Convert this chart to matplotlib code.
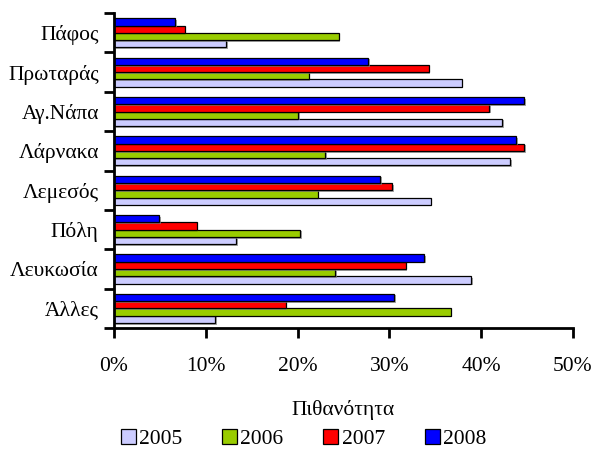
import numpy as np
import matplotlib.pyplot as plt
import matplotlib.patheffects as pe
from matplotlib.patches import Patch
from matplotlib.ticker import FixedLocator, PercentFormatter

plt.rcParams["font.family"] = ["Liberation Serif", "DejaVu Serif"]
plt.rcParams["font.size"] = 15.5

# categories, top to bottom
places = ["Πάφος", "Πρωταράς", "Αγ.Νάπα", "Λάρνακα", "Λεμεσός", "Πόλη", "Λευκωσία", "Άλλες"]
years = ["2005", "2006", "2007", "2008"]

# values in %
v2005 = [12.2, 37.9, 42.3, 43.2, 34.5, 13.3, 38.9, 11.0]
v2006 = [24.5, 21.2, 20.1, 23.0, 22.2, 20.3, 24.1, 36.7]
v2007 = [7.7, 34.3, 40.9, 44.7, 30.3, 9.0, 31.8, 18.7]
v2008 = [6.7, 27.7, 44.7, 43.8, 29.0, 4.9, 33.8, 30.5]

colors = ["#CCCCFF", "#99CC00", "#FF0000", "#0000FF"]

fig = plt.figure(figsize=(5.95, 4.53), dpi=100)
ax = fig.add_axes([0.1916, 0.276, 0.771, 0.695])

y = np.arange(len(places))
h = 0.185
shadow = [pe.SimplePatchShadow(offset=(1.2, -1.2), shadow_rgbFace="#808080", alpha=0.7), pe.Normal()]
for k, (vals, col, yr) in enumerate(zip([v2005, v2006, v2007, v2008], colors, years)):
    off = (1.5 - k) * h
    bars = ax.barh(y + off, vals, height=h, color=col, edgecolor="black", linewidth=0.9, label=yr)
    for b in bars:
        b.set_path_effects(shadow)

ax.set_xlim(0, 50)
ax.set_ylim(len(places) - 0.5, -0.5)
ax.set_xticks(np.arange(0, 51, 10))
ax.xaxis.set_major_formatter(PercentFormatter(decimals=0))

ax.yaxis.set_major_locator(FixedLocator(np.arange(-0.5, len(places), 1)))
ax.yaxis.set_minor_locator(FixedLocator(y))
ax.set_yticklabels([], minor=False)
ax.set_yticklabels(places, minor=True)
ax.tick_params(axis="y", which="major", direction="out", length=7, width=2)
ax.tick_params(axis="y", which="minor", length=0, pad=11)
ax.tick_params(axis="x", direction="out", length=7, width=2, pad=14)

for s in ["top", "right"]:
    ax.spines[s].set_visible(False)
for s in ["left", "bottom"]:
    ax.spines[s].set_linewidth(2)

ax.set_xlabel("Πιθανότητα", labelpad=17)

handles = [Patch(facecolor=c, edgecolor="black", linewidth=0.9, label=yr) for c, yr in zip(colors, years)]
fig.legend(handles=handles, loc="center", bbox_to_anchor=(0.51, 0.03), ncol=4, frameon=False,
           handlelength=0.7, handleheight=0.7, handletextpad=0.15, columnspacing=1.85)

fig.savefig("out.png", dpi=100)
